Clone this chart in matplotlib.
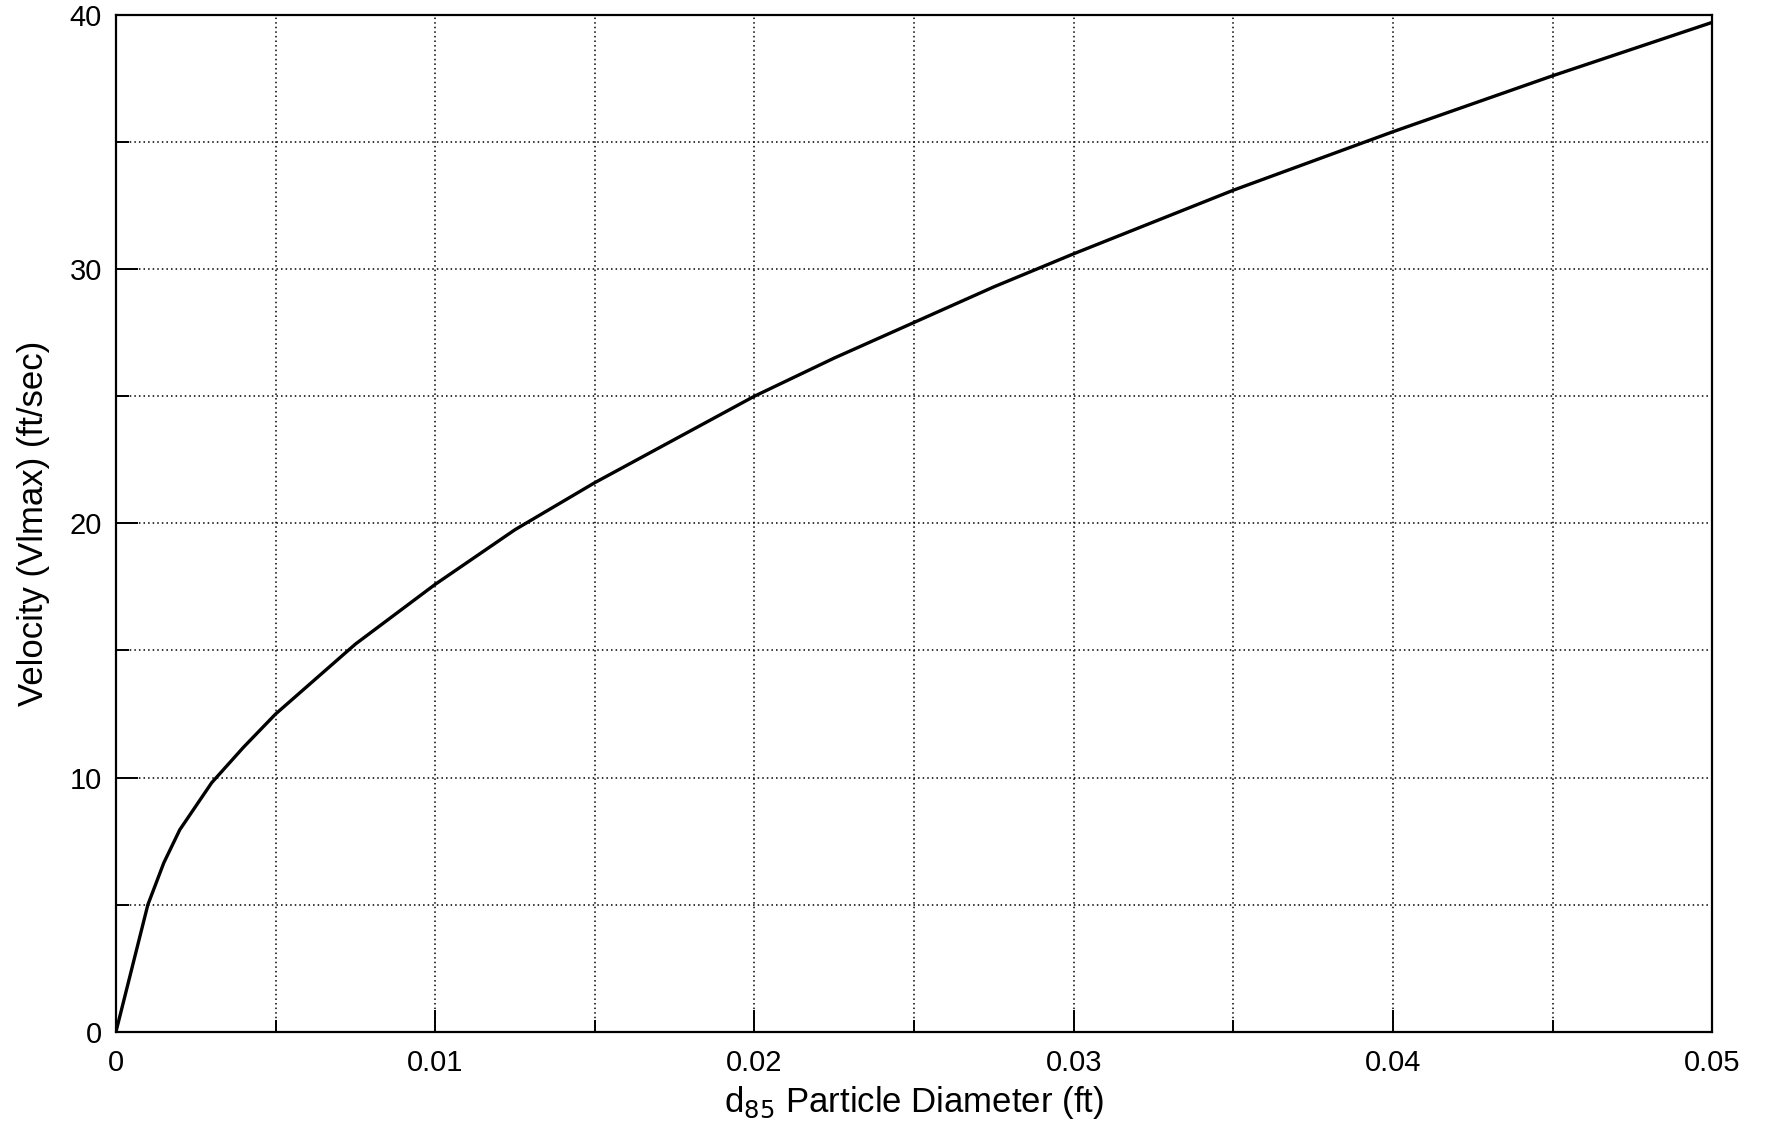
import matplotlib
matplotlib.use('Agg')
import matplotlib.pyplot as plt
from matplotlib.ticker import MultipleLocator

# values
diameter = [0, 0.0005, 0.001, 0.0015, 0.002, 0.003, 0.004, 0.005, 0.0075,
            0.01, 0.0125, 0.015, 0.0175, 0.02, 0.0225, 0.025, 0.0275,
            0.03, 0.0325, 0.035, 0.0375, 0.04, 0.0425, 0.045, 0.0475, 0.05]
velocity = [0, 2.5, 5.0, 6.65, 7.95, 9.8, 11.2, 12.5, 15.25,
            17.6, 19.75, 21.6, 23.3, 25.0, 26.5, 27.9, 29.3,
            30.6, 31.85, 33.1, 34.25, 35.4, 36.5, 37.6, 38.65, 39.7]

x_ticks = [0, 0.01, 0.02, 0.03, 0.04, 0.05]
x_labels = ['0', '0.01', '0.02', '0.03', '0.04', '0.05']
y_ticks = [0, 10, 20, 30, 40]

plt.rcParams['font.family'] = ['Liberation Sans', 'DejaVu Sans']

fig = plt.figure(figsize=(17.67, 11.34), dpi=100)
ax = fig.add_axes([0.0656, 0.090, 0.9034, 0.897])

ax.plot(diameter, velocity, color='black', linewidth=2.4,
        solid_capstyle='round', solid_joinstyle='round')

ax.set_xlim(0, 0.05)
ax.set_ylim(0, 40)
ax.set_xticks(x_ticks)
ax.set_xticklabels(x_labels)
ax.set_yticks(y_ticks)
ax.xaxis.set_minor_locator(MultipleLocator(0.005))
ax.yaxis.set_minor_locator(MultipleLocator(5))

ax.grid(True, which='both', color='black', linestyle=(0, (1, 2)), linewidth=1.1)
ax.set_axisbelow(True)

ax.tick_params(which='major', direction='in', length=16, width=1.4, labelsize=21)
ax.tick_params(axis='x', which='major', pad=12)
ax.tick_params(axis='y', which='major', pad=10)
ax.tick_params(which='minor', direction='in', length=9, width=1.4)
for s in ax.spines.values():
    s.set_linewidth(1.6)

ax.set_xlabel('d$_{85}$ Particle Diameter (ft)', fontsize=25, labelpad=5)
ax.set_ylabel('Velocity (Vlmax) (ft/sec)', fontsize=25, labelpad=14)

fig.savefig('out.png', dpi=100, facecolor='white')
